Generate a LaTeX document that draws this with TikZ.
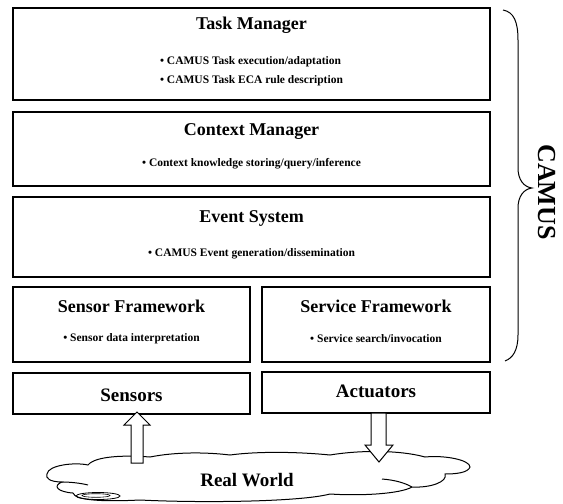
\documentclass[tikz,border=0pt]{standalone}
\usepackage{fontspec}
\setmainfont{Liberation Serif}
\begin{document}
\begin{tikzpicture}[x=1pt,y=-1pt,
  layerbox/.style={draw,line width=1.1pt,inner sep=0pt},
  titletext/.style={font=\bfseries\fontsize{18}{21}\selectfont,inner sep=0pt},
  bigtext/.style={font=\bfseries\fontsize{19}{22}\selectfont,inner sep=0pt},
  bullettext/.style={font=\bfseries\fontsize{11.5}{18.5}\selectfont,inner sep=0pt,align=left},
  blockarrow/.style={draw,fill=white,line width=1pt,line join=miter},
  cloudline/.style={draw,line width=1pt}]
\useasboundingbox (0,0) rectangle (563,504);
% layer boxes
\node[layerbox,minimum width=477pt,minimum height=92pt] (tm) at (251.5,54) {};
\node[layerbox,minimum width=477pt,minimum height=74pt] (cm) at (251.5,149) {};
\node[layerbox,minimum width=477pt,minimum height=80pt] (es) at (251.5,237) {};
\node[layerbox,minimum width=237pt,minimum height=75pt] (sf) at (131.5,324.5) {};
\node[layerbox,minimum width=228pt,minimum height=75pt] (svf) at (376,324.5) {};
\node[layerbox,minimum width=237pt,minimum height=41pt] (sens) at (131.5,393.5) {};
\node[layerbox,minimum width=228pt,minimum height=41pt] (act) at (376,392.5) {};
% texts
\node[titletext] (tmt) at (251.5,25) {Task Manager};
\node[bullettext] (tmb) at (251.5,71) {• CAMUS Task execution/adaptation\\• CAMUS Task ECA rule description};
\node[titletext] (cmt) at (251.5,132) {Context Manager};
\node[bullettext] (cmb) at (251.5,164) {• Context knowledge storing/query/inference};
\node[titletext] (est) at (251.5,218) {Event System};
\node[bullettext] (esb) at (251.5,254) {• CAMUS Event generation/dissemination};
\node[titletext] (sft) at (131.5,306) {Sensor Framework};
\node[bullettext] (sfb) at (131.5,339) {• Sensor data interpretation};
\node[titletext] (svft) at (376,306) {Service Framework};
\node[bullettext] (svfb) at (376,339) {• Service search/invocation};
\node[bigtext] (senst) at (131.5,395) {Sensors};
\node[bigtext] (actt) at (376,391) {Actuators};
% brace and CAMUS
\draw[line width=1pt] (503,10) .. controls (514,12) and (518,22) .. (518,40) -- (518,168)
  .. controls (518,180) and (524,187) .. (532,188)
  .. controls (524,189) and (518,196) .. (518,208) -- (518,335)
  .. controls (518,350) and (513,358) .. (505,361);
\node[font=\bfseries\fontsize{26}{30}\selectfont,rotate=-90,inner sep=0pt] (camus) at (547,192) {CAMUS};
% cloud
\draw[cloudline,fill=white] (47,474)
  .. controls (48,465) and (75,462) .. (88,465)
  .. controls (95,456) and (125,455) .. (150,457)
  .. controls (175,452) and (205,452) .. (230,455)
  .. controls (260,451) and (300,452) .. (330,455)
  .. controls (360,450) and (400,450) .. (425,457)
  .. controls (445,455) and (470,460) .. (470,467)
  .. controls (468,473) and (455,474) .. (445,474)
  .. controls (448,482) and (430,488) .. (412,487)
  .. controls (400,494) and (360,496) .. (330,494)
  .. controls (300,502) and (200,503) .. (140,500)
  .. controls (100,502) and (75,500) .. (73,493)
  .. controls (58,492) and (52,486) .. (62,482)
  .. controls (50,482) and (45,478) .. (47,474) -- cycle;
\draw[cloudline] (382,479) .. controls (395,480) and (405,483) .. (412,487);
\draw[cloudline] (62,482) .. controls (70,482) and (80,483) .. (88,485);
\draw[line width=0.8pt] (98,496) ellipse [x radius=22, y radius=3.5];
\draw[line width=0.6pt] (96,495.5) ellipse [x radius=14, y radius=1.8];
\node[bigtext] (rw) at (247,480) {Real World};
% block arrows
\draw[blockarrow] (131,463) -- (131,425) -- (124,425) -- (137,412) -- (150,425) -- (143,425) -- (143,463) -- cycle;
\draw[blockarrow] (371,413) -- (371,445) -- (365,445) -- (379,462) -- (393,445) -- (386,445) -- (386,413) -- cycle;
\end{tikzpicture}
\end{document}
